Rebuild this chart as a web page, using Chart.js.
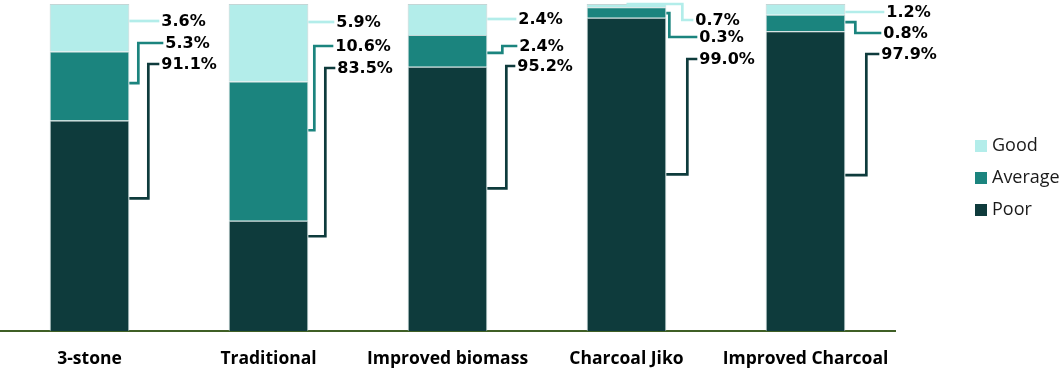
<!DOCTYPE html>
<html>
<head>
<meta charset="utf-8">
<script src="https://cdn.jsdelivr.net/npm/chart.js@4"></script>
<style>
  html, body { margin:0; padding:0; background:#fff; }
  #wrap { width:1062px; height:369px; position:relative; }
</style>
</head>
<body>
<div id="wrap"><canvas id="stoves"></canvas></div>
<script>
// categories + bar heights (share of bar)
const CATEGORIES = ["3-stone", "Traditional", "Improved biomass", "Charcoal Jiko", "Improved Charcoal"];
const POOR_BAR    = [64.4, 33.7, 80.8, 95.8, 91.7];
const AVERAGE_BAR = [21.1, 42.6, 9.7, 3.2, 5.0];
const GOOD_BAR    = [14.5, 23.7, 9.5, 1.0, 3.3];

// printed labels
const POOR_PCT    = [91.1, 83.5, 95.2, 99.0, 97.9];
const AVERAGE_PCT = [5.3, 10.6, 2.4, 0.3, 0.8];
const GOOD_PCT    = [3.6, 5.9, 2.4, 0.7, 1.2];

const SERIES = ["Good", "Average", "Poor"];

const COLORS = {
  good: "#b3edea",
  average: "#1b847e",
  poor: "#0e3b3c",
  axis: "#3f5f25",
  edge: "rgba(190,210,210,.9)",
  text: "#000"
};

// hand placed label boxes: [dx from bar right, text centre y] for good / average / poor
const LABEL_POS = [
  [[32,21],[36,43],[32,64]],
  [[28,22],[27,46],[29,68]],
  [[31,19],[32,46],[30,66]],
  [[29,20],[33,37],[33,59]],
  [[41,12],[38,33],[36,54]]
];
// elbow x offset from bar right (null = straight line)
const ELBOW = [[null,9,19],[null,6,17],[null,15,19],[16,3,21],[null,10,21]];
// where the leader leaves the segment (fraction from segment top, "top" = top centre)
const ANCHOR = [[.5,.46,.37],[.5,.35,.14],[.5,.56,.46],["top",.55,.5],[.63,.45,.48]];

const leaderLabels = {
  id: "leaderLabels",
  afterDatasetsDraw(chart){
    const ctx = chart.ctx;
    const y = chart.scales.y;
    const meta = chart.getDatasetMeta(0);
    const pcts = [GOOD_PCT, AVERAGE_PCT, POOR_PCT];
    const cols = [COLORS.good, COLORS.average, COLORS.poor];
    ctx.save();
    CATEGORIES.forEach((c, i) => {
      const bar = meta.data[i];
      const right = bar.x + bar.width/2;
      // segment bounds, good on top
      const p = POOR_BAR[i], a = AVERAGE_BAR[i], g = GOOD_BAR[i];
      const segs = [
        [y.getPixelForValue(p+a+g), y.getPixelForValue(p+a)],
        [y.getPixelForValue(p+a), y.getPixelForValue(p)],
        [y.getPixelForValue(p), y.getPixelForValue(0)]
      ];
      for (let k = 0; k < 3; k++){
        const [dx, ty] = LABEL_POS[i][k];
        const tx = right + dx;
        const [top, bot] = segs[k];
        ctx.strokeStyle = cols[k];
        ctx.lineWidth = 2.7;
        ctx.lineJoin = "miter";
        ctx.beginPath();
        if (ELBOW[i][k] === null){
          ctx.moveTo(right, ty);
          ctx.lineTo(tx - 2, ty);
        } else {
          const ex = right + ELBOW[i][k];
          let sx = right, sy;
          if (ANCHOR[i][k] === "top"){ sx = bar.x; sy = top; }
          else sy = top + (bot - top) * ANCHOR[i][k];
          ctx.moveTo(sx, sy);
          ctx.lineTo(ex, sy);
          ctx.lineTo(ex, ty);
          ctx.lineTo(tx - 2, ty);
        }
        ctx.stroke();
        ctx.fillStyle = COLORS.text;
        ctx.font = "bold 16px 'DejaVu Sans'";
        ctx.textBaseline = "middle";
        ctx.textAlign = "left";
        ctx.fillText(pcts[k][i].toFixed(1) + "%", tx, ty + 1);
      }
    });
    ctx.restore();
  }
};

const sideLegend = {
  id: "sideLegend",
  afterDraw(chart){
    const ctx = chart.ctx;
    const cols = [COLORS.good, COLORS.average, COLORS.poor];
    ctx.save();
    ctx.font = "18px 'Open Sans'";
    ctx.textBaseline = "middle";
    SERIES.forEach((s, k) => {
      const cy = 146 + k*32;
      ctx.fillStyle = cols[k];
      ctx.fillRect(975, cy - 6, 12, 12);
      ctx.fillStyle = "#1a1a1a";
      ctx.fillText(s, 992, cy);
    });
    ctx.restore();
  }
};

const ds = (label, data, color) => ({
  label, data, backgroundColor: color, borderColor: COLORS.edge, borderWidth: 1,
  categoryPercentage: 1, barPercentage: .445
});

new Chart(document.getElementById("stoves"), {
  type: "bar",
  data: {
    labels: CATEGORIES,
    datasets: [
      ds("Poor", POOR_BAR, COLORS.poor),
      ds("Average", AVERAGE_BAR, COLORS.average),
      ds("Good", GOOD_BAR, COLORS.good)
    ]
  },
  options: {
    responsive: true,
    maintainAspectRatio: false,
    animation: false,
    layout: { padding: { top: 4, right: 167, left: 0, bottom: 0 } },
    plugins: { legend: { display: false }, tooltip: { enabled: false } },
    scales: {
      x: {
        stacked: true,
        grid: { display: false },
        border: { color: COLORS.axis, width: 2 },
        ticks: { color: "#000", font: { family: "'Open Sans'", size: 17.5, weight: "bold" }, padding: 10, maxRotation: 0, autoSkip: false },
        afterFit: (s) => { s.height = 38; }
      },
      y: { stacked: true, display: false, min: 0, max: 100 }
    }
  },
  plugins: [leaderLabels, sideLegend]
});
</script>
</body>
</html>
